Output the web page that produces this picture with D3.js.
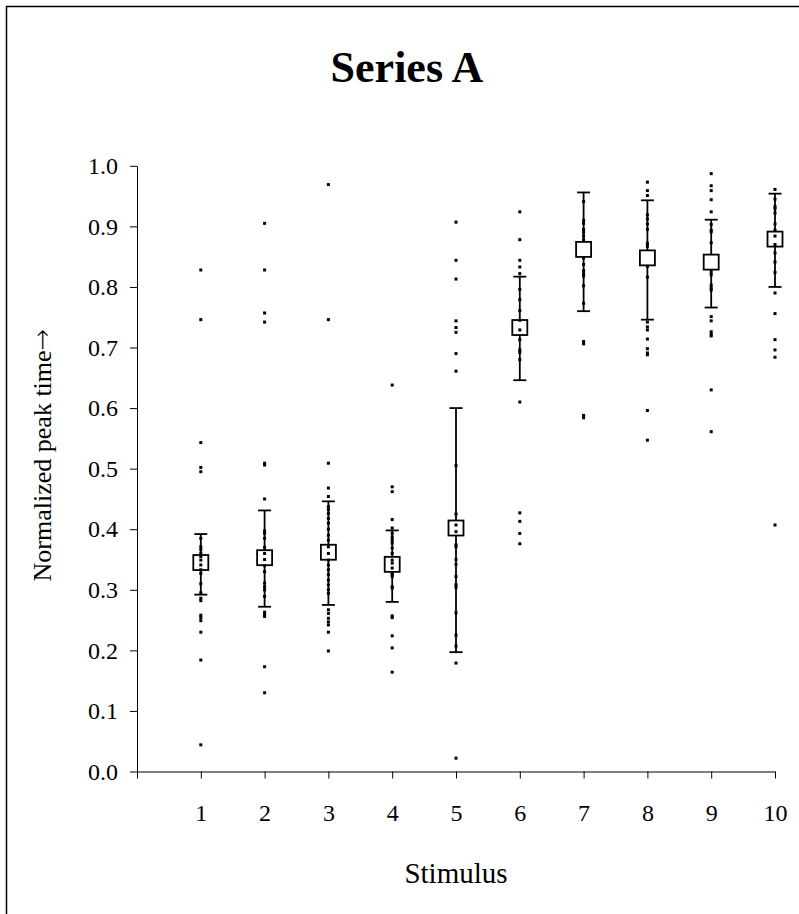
<!DOCTYPE html>
<html>
<head>
<meta charset="utf-8">
<script src="https://d3js.org/d3.v7.min.js"></script>
<style>
  body { margin: 0; background: #fff; }
  svg text { font-family: "Liberation Serif", "Times New Roman", serif; fill: #000; }
</style>
</head>
<body>
<svg width="799" height="914" class="chart"></svg>
<script>
  // stimulus numbers and the summary per stimulus
  const stimuli = [1, 2, 3, 4, 5, 6, 7, 8, 9, 10];
  const means = [0.345, 0.353, 0.362, 0.342, 0.402, 0.733, 0.862, 0.848, 0.841, 0.879];
  const errLow = [0.292, 0.272, 0.275, 0.280, 0.197, 0.646, 0.760, 0.746, 0.766, 0.800];
  const errHigh = [0.392, 0.431, 0.446, 0.398, 0.600, 0.817, 0.956, 0.943, 0.911, 0.954];

  // single trials, one list per stimulus
  const trials = [
    [0.828, 0.746, 0.543, 0.502, 0.495, 0.385, 0.371, 0.366, 0.360, 0.355, 0.349, 0.341, 0.333, 0.327,
     0.310, 0.295, 0.286, 0.282, 0.258, 0.254, 0.249, 0.230, 0.184, 0.044],
    [0.905, 0.828, 0.757, 0.742, 0.509, 0.506, 0.450, 0.397, 0.393, 0.385, 0.370, 0.360, 0.350, 0.340,
     0.330, 0.311, 0.305, 0.300, 0.289, 0.263, 0.260, 0.256, 0.173, 0.130],
    [0.969, 0.746, 0.509, 0.468, 0.454, 0.437, 0.432, 0.426, 0.418, 0.410, 0.400, 0.390, 0.382, 0.371,
     0.360, 0.349, 0.341, 0.333, 0.325, 0.316, 0.308, 0.300, 0.294, 0.267, 0.261, 0.253, 0.247, 0.242,
     0.230, 0.199],
    [0.638, 0.470, 0.462, 0.416, 0.402, 0.393, 0.387, 0.382, 0.377, 0.369, 0.360, 0.349, 0.344, 0.336,
     0.327, 0.325, 0.322, 0.305, 0.303, 0.257, 0.254, 0.224, 0.204, 0.164],
    [0.907, 0.844, 0.813, 0.744, 0.733, 0.725, 0.690, 0.661, 0.505, 0.425, 0.407, 0.396, 0.374, 0.371,
     0.350, 0.342, 0.322, 0.308, 0.304, 0.262, 0.225, 0.207, 0.179, 0.022],
    [0.924, 0.878, 0.844, 0.833, 0.822, 0.796, 0.779, 0.761, 0.745, 0.729, 0.713, 0.696, 0.692, 0.680,
     0.610, 0.427, 0.413, 0.393, 0.376],
    [0.941, 0.910, 0.905, 0.895, 0.890, 0.884, 0.878, 0.848, 0.837, 0.827, 0.822, 0.818, 0.802, 0.773,
     0.710, 0.706, 0.588, 0.584],
    [0.973, 0.959, 0.951, 0.919, 0.912, 0.904, 0.895, 0.872, 0.867, 0.834, 0.816, 0.742, 0.734, 0.729,
     0.714, 0.698, 0.691, 0.688, 0.596, 0.547],
    [0.987, 0.967, 0.959, 0.944, 0.924, 0.903, 0.894, 0.891, 0.873, 0.825, 0.820, 0.803, 0.798, 0.795,
     0.751, 0.744, 0.726, 0.722, 0.719, 0.630, 0.561],
    [0.961, 0.945, 0.933, 0.929, 0.922, 0.904, 0.894, 0.884, 0.870, 0.856, 0.841, 0.824, 0.790, 0.756,
     0.713, 0.696, 0.684, 0.407]
  ];
  const yTicks = [0, 0.1, 0.2, 0.3, 0.4, 0.5, 0.6, 0.7, 0.8, 0.9, 1.0];

  const svg = d3.select(".chart");

  // outer frame (runs off the right and bottom edge)
  svg.append("rect")
    .attr("x", 6.5).attr("y", 6.5)
    .attr("width", 900).attr("height", 1000)
    .attr("fill", "none")
    .attr("stroke", "#000")
    .attr("stroke-width", 1.5);

  const x = d3.scaleLinear().domain([0, 10]).range([137, 775]);
  const y = d3.scaleLinear().domain([0, 1]).range([771.5, 165.8]);

  // x axis
  const xAxis = svg.append("g")
    .attr("transform", "translate(0," + y(0) + ")")
    .call(d3.axisBottom(x)
      .tickValues(d3.range(0, 11))
      .tickFormat(d => d === 0 ? "" : d)
      .tickSize(7)
      .tickSizeOuter(0)
      .tickPadding(25));
  xAxis.selectAll("text").style("font-size", "24px");

  // y axis
  const yAxis = svg.append("g")
    .attr("transform", "translate(" + x(0) + ",0)")
    .call(d3.axisLeft(y)
      .tickValues(yTicks)
      .tickFormat(d3.format(".1f"))
      .tickSize(7)
      .tickSizeOuter(0)
      .tickPadding(12));
  yAxis.selectAll("text").style("font-size", "24px");
  svg.selectAll(".domain, .tick line").attr("stroke", "#000");

  const summary = stimuli.map((s, i) => ({s: s, mean: means[i], lo: errLow[i], hi: errHigh[i]}));

  // error bars
  const err = svg.append("g").attr("stroke", "#000").attr("stroke-width", 1.8);
  err.selectAll(".stem")
    .data(summary)
    .enter().append("line")
    .attr("x1", d => x(d.s)).attr("x2", d => x(d.s))
    .attr("y1", d => y(d.lo)).attr("y2", d => y(d.hi));
  err.selectAll(".capHi")
    .data(summary)
    .enter().append("line")
    .attr("x1", d => x(d.s) - 6.5).attr("x2", d => x(d.s) + 6.5)
    .attr("y1", d => y(d.hi)).attr("y2", d => y(d.hi));
  err.selectAll(".capLo")
    .data(summary)
    .enter().append("line")
    .attr("x1", d => x(d.s) - 6.5).attr("x2", d => x(d.s) + 6.5)
    .attr("y1", d => y(d.lo)).attr("y2", d => y(d.lo));

  // mean markers
  svg.selectAll(".mean")
    .data(summary)
    .enter().append("rect")
    .attr("class", "mean")
    .attr("x", d => x(d.s) - 7.5)
    .attr("y", d => y(d.mean) - 7.5)
    .attr("width", 15).attr("height", 15)
    .attr("fill", "#fff")
    .attr("stroke", "#000")
    .attr("stroke-width", 1.8);

  // trial dots
  const dots = [];
  trials.forEach((list, i) => list.forEach(v => dots.push({s: stimuli[i], v: v})));
  svg.selectAll(".dot")
    .data(dots)
    .enter().append("rect")
    .attr("class", "dot")
    .attr("x", d => x(d.s) - 1.5)
    .attr("y", d => y(d.v) - 1.5)
    .attr("width", 3).attr("height", 3)
    .attr("fill", "#000");

  // titles
  svg.append("text")
    .attr("x", 407).attr("y", 82)
    .attr("text-anchor", "middle")
    .style("font-size", "44px")
    .style("font-weight", "bold")
    .text("Series A");

  svg.append("text")
    .attr("x", 456).attr("y", 883)
    .attr("text-anchor", "middle")
    .style("font-size", "29px")
    .text("Stimulus");

  const yTitle = svg.append("text")
    .attr("transform", "translate(51,455) rotate(-90)")
    .attr("text-anchor", "middle")
    .style("font-size", "26px");
  yTitle.append("tspan").text("Normalized peak time");
  yTitle.append("tspan")
    .style("font-family", "DejaVu Sans")
    .style("font-weight", "200")
    .text("\u2192");
</script>
</body>
</html>
